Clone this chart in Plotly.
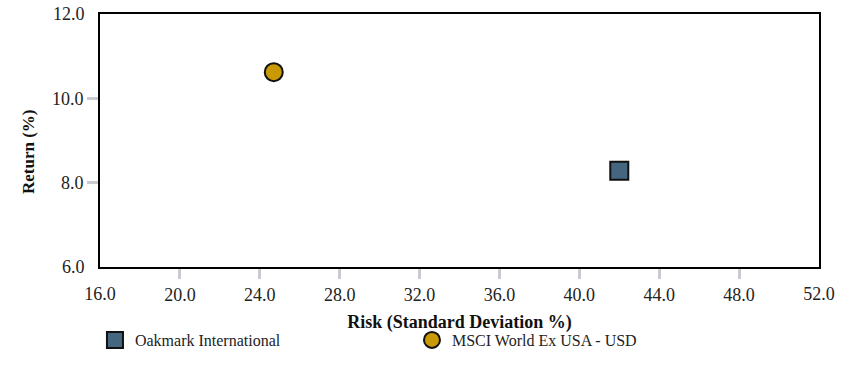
import plotly.graph_objects as go

names = ["Oakmark International", "MSCI World Ex USA - USD"]
risk = [42.0, 24.7]
ret = [8.28, 10.62]
symbols = ["square", "circle"]
colors = ["#44677F", "#C99A06"]
legend_ids = ["legend", "legend2"]
legend_x = [-0.007, 0.4339]

x_range = [16, 52]
y_range = [6, 12]
x_tick_inner = [20, 24, 28, 32, 36, 40, 44, 48]
x_tick_ends = [16, 52]
y_tick_inner = [8, 10]
y_tick_ends = [6, 12]

font_family = "Liberation Serif"

fig = go.Figure()
for n, xv, yv, s, c, lg in zip(names, risk, ret, symbols, colors, legend_ids):
    fig.add_trace(go.Scatter(
        x=[xv], y=[yv], mode="markers", name=n, legend=lg,
        marker=dict(symbol=s, size=18, color=c, line=dict(color="#111111", width=2)),
    ))
# empty helper trace so the end-label axes are drawn
fig.add_trace(go.Scatter(x=[], y=[], xaxis="x2", yaxis="y2", showlegend=False, hoverinfo="skip"))

leg_common = dict(orientation="h", yanchor="middle", y=-0.2885, xanchor="left",
                  font=dict(family=font_family, size=16, color="#222222"),
                  bgcolor="rgba(0,0,0,0)")

tickfont = dict(family=font_family, size=18, color="#222222")

fig.update_layout(
    width=859, height=379,
    margin=dict(l=100, r=40, t=14, b=112),
    paper_bgcolor="white", plot_bgcolor="white",
    font=dict(family=font_family, size=17, color="#222222"),
    showlegend=True,
    legend=dict(x=legend_x[0], **leg_common),
    legend2=dict(x=legend_x[1], **leg_common),
    xaxis=dict(
        range=x_range, tickvals=x_tick_inner, ticktext=[f"{v:.1f}" for v in x_tick_inner],
        showgrid=False, zeroline=False, showline=True, linecolor="black", linewidth=2,
        mirror=True, ticks="outside", ticklen=10, tickwidth=3, tickcolor="#C8CCD0",
        tickfont=tickfont, automargin=False, ticklabeloverflow="allow",
        title=dict(text="<b>Risk (Standard Deviation %)</b>", font=dict(family=font_family, size=18, color="#111111"), standoff=12),
    ),
    yaxis=dict(
        range=y_range, tickvals=y_tick_inner, ticktext=[f"{v:.1f}" for v in y_tick_inner],
        showgrid=False, zeroline=False, showline=True, linecolor="black", linewidth=2,
        mirror=True, ticks="outside", ticklen=11, tickwidth=3, tickcolor="#C8CCD0",
        tickfont=tickfont, automargin=False, ticklabeloverflow="allow",
    ),
    xaxis2=dict(
        range=x_range, overlaying="x", side="bottom", tickvals=x_tick_ends,
        ticktext=[f"{v:.1f}" for v in x_tick_ends],
        showgrid=False, zeroline=False, showline=False,
        ticks="outside", ticklen=10, tickwidth=1, tickcolor="rgba(0,0,0,0)",
        tickfont=tickfont, automargin=False, ticklabeloverflow="allow",
    ),
    yaxis2=dict(
        range=y_range, overlaying="y", side="left", tickvals=y_tick_ends,
        ticktext=[f"{v:.1f}" for v in y_tick_ends],
        showgrid=False, zeroline=False, showline=False,
        ticks="outside", ticklen=11, tickwidth=1, tickcolor="rgba(0,0,0,0)",
        tickfont=tickfont, automargin=False, ticklabeloverflow="allow",
    ),
    annotations=[dict(
        text="<b>Return (%)</b>", textangle=-90, xref="paper", yref="paper",
        x=-0.1001, y=0.4545, xanchor="center", yanchor="middle", showarrow=False,
        font=dict(family=font_family, size=17, color="#111111"),
    )],
)

fig.write_html("out.html", config={"displayModeBar": False},
               post_script="document.body.style.margin='0';")
